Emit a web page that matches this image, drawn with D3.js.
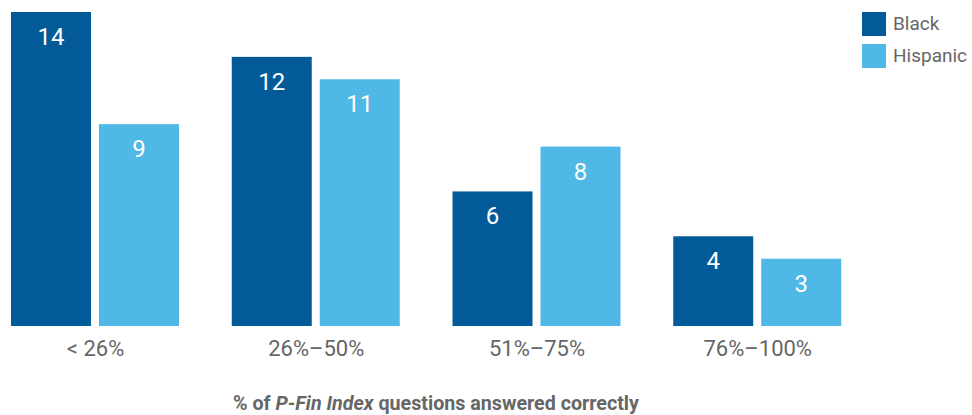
<!DOCTYPE html>
<html><head><meta charset="utf-8">
<script src="https://cdn.jsdelivr.net/npm/d3@7/dist/d3.min.js"></script>
<style>body{margin:0;background:#fff}svg{display:block}text{font-family:"Roboto",sans-serif}</style>
</head><body><svg id="c" width="972" height="415"></svg>
<script>
const categories = ["< 26%", "26%–50%", "51%–75%", "76%–100%"];
const seriesNames = ["Black", "Hispanic"];
const black = [14, 12, 6, 4];
const hispanic = [9, 11, 8, 3];
const colors = ["#025B98", "#4FB8E7"];

const svg = d3.select("#c");
const x0 = d3.scaleBand().domain(categories).range([11, 894]).paddingInner(0);
const x1 = d3.scaleBand().domain(seriesNames).range([0, 168]).paddingInner(8/88);
const y = d3.scaleLinear().domain([0, 14]).range([326, 12]);
const color = d3.scaleOrdinal().domain(seriesNames).range(colors);

const data = categories.map((c, i) => ({cat: c, vals: [{s: "Black", v: black[i]}, {s: "Hispanic", v: hispanic[i]}]}));

const g = svg.selectAll("g.grp").data(data).join("g").attr("class", "grp")
  .attr("transform", d => `translate(${x0(d.cat)},0)`);
g.selectAll("rect").data(d => d.vals).join("rect")
  .attr("x", d => x1(d.s)).attr("width", x1.bandwidth())
  .attr("y", d => y(d.v)).attr("height", d => y(0) - y(d.v))
  .attr("fill", d => color(d.s));
g.selectAll("text.val").data(d => d.vals).join("text").attr("class", "val")
  .attr("x", d => x1(d.s) + x1.bandwidth()/2).attr("y", d => y(d.v) + 33)
  .attr("text-anchor", "middle").attr("fill", "#fff").attr("font-size", 24)
  .text(d => d.v);

// category axis labels
const xAxis = d3.axisBottom(d3.scalePoint().domain(categories).range([x0(categories[0]) + 84, x0(categories[3]) + 84]))
  .tickSize(0).tickPadding(0);
const ax = svg.append("g").attr("transform", "translate(0,340)").call(xAxis);
ax.select(".domain").remove();
ax.selectAll("text").attr("font-size", 22).attr("fill", "#666").attr("dy", "0.71em")
  .style("font-family", '"Roboto",sans-serif');

// axis title
const t = svg.append("text").attr("x", 436).attr("y", 410).attr("text-anchor", "middle")
  .attr("font-size", 19.7).attr("font-weight", "bold").attr("fill", "#666");
t.append("tspan").text("% of ");
t.append("tspan").attr("font-style", "italic").text("P-Fin Index");
t.append("tspan").text(" questions answered correctly");

// legend
const lg = svg.selectAll("g.leg").data(seriesNames).join("g").attr("class", "leg")
  .attr("transform", (d, i) => `translate(862,${12 + i*32})`);
lg.append("rect").attr("width", 24).attr("height", 24).attr("fill", d => color(d));
lg.append("text").attr("x", 31).attr("y", 18).attr("font-size", 19).attr("fill", "#666").text(d => d);
</script></body></html>
